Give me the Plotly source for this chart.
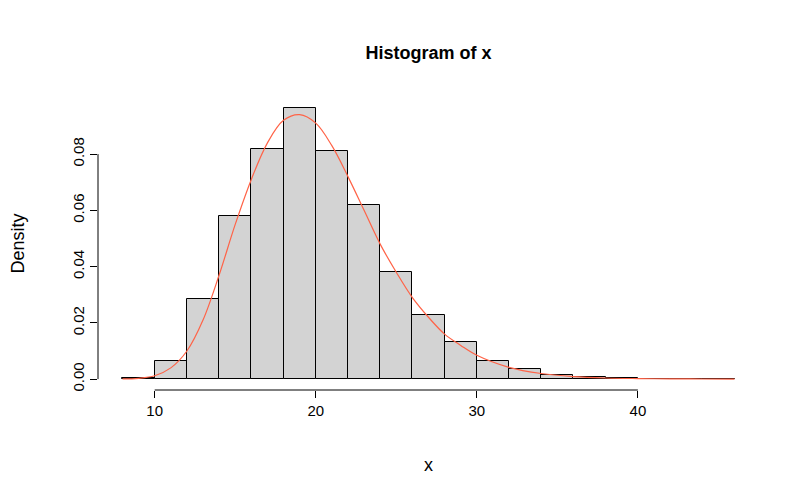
import plotly.graph_objects as go

bin_left = [8, 10, 12, 14, 16, 18, 20, 22, 24, 26, 28, 30, 32, 34, 36, 38, 40, 42, 44]
density = [0.0005, 0.0064, 0.0284, 0.058, 0.0818, 0.0964, 0.081, 0.0619, 0.038, 0.0228,
           0.0132, 0.0064, 0.0036, 0.0016, 0.0007, 0.0003, 0.0002, 0.0001, 0.0001]
curve_x = [8, 9, 10, 11, 12, 13, 14, 15, 16, 17, 18, 19, 20, 21, 22, 23, 24, 25, 26, 27,
           28, 29, 30, 32, 34, 36, 38, 40, 42, 44, 46]
curve_y = [0.0001, 0.0003, 0.0012, 0.004, 0.010, 0.021, 0.037, 0.055, 0.071, 0.084, 0.092,
           0.094, 0.091, 0.083, 0.072, 0.060, 0.048, 0.038, 0.029, 0.022, 0.016, 0.012,
           0.0085, 0.0042, 0.002, 0.0009, 0.0004, 0.0002, 0.0001, 0.00005, 0.0]
xticks = [10, 20, 30, 40]
yticks = [0.00, 0.02, 0.04, 0.06, 0.08]

fig = go.Figure()
fig.add_bar(x=[b + 1 for b in bin_left], y=density, width=2,
            marker=dict(color="#D3D3D3", line=dict(color="black", width=1)))
fig.add_scatter(x=curve_x, y=curve_y, mode="lines", line=dict(color="tomato", width=1.2, shape="spline"))

fig.add_shape(type="line", xref="x", yref="paper", x0=xticks[0], x1=xticks[-1], y0=0, y1=0,
              line=dict(color="black", width=1))
fig.add_shape(type="line", xref="paper", yref="y", x0=0, x1=0, y0=yticks[0], y1=yticks[-1],
              line=dict(color="black", width=1))

font = dict(family="Liberation Sans, Arial", size=15, color="black")
fig.update_layout(
    width=799, height=494, showlegend=False, plot_bgcolor="white", paper_bgcolor="white",
    margin=dict(l=90, r=48, t=89, b=112, autoexpand=False), font=font, bargap=0,
    title=dict(text="<b>Histogram of x</b>", x=0.5, xanchor="center", y=0.91, yanchor="middle",
               xref="paper", font=dict(size=18)),
    xaxis=dict(range=[6.48, 47.52], tickvals=xticks, ticks="outside", ticklen=7, tickcolor="black",
               showgrid=False, zeroline=False, showline=False, automargin=False,
               title=dict(text="x", standoff=40)),
    yaxis=dict(range=[-0.00386, 0.1003], tickvals=yticks, ticktext=["0.00", "0.02", "0.04", "0.06", "0.08"],
               ticks="outside", ticklen=7, tickcolor="black", tickangle=-90,
               showgrid=False, zeroline=False, showline=False, automargin=False,
               title=dict(text="Density", standoff=40)),
)
fig.write_html("out.html")
